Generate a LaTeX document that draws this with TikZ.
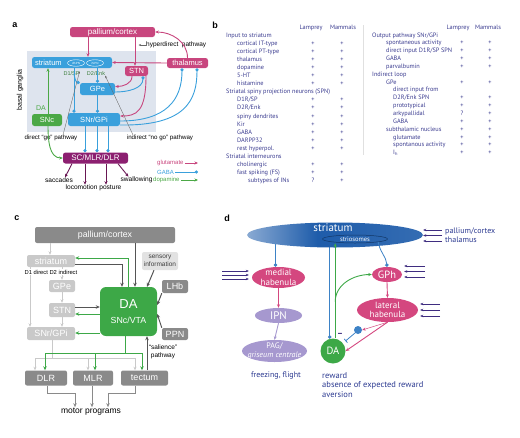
\documentclass[tikz,border=0pt]{standalone}
\usepackage{fontspec}
\setmainfont{Liberation Sans}
\newfontfamily\myr{PT Sans}
\usepackage{tikz}
\usetikzlibrary{arrows.meta,shapes.geometric,backgrounds}
\newcommand{\fsz}[1]{\fontsize{#1}{#1}\selectfont}
% colours
\definecolor{glu}{HTML}{C8467E}
\definecolor{gabac}{HTML}{3AA0DC}
\definecolor{dopc}{HTML}{4BA846}
\definecolor{dopdk}{HTML}{3A7D3A}
\definecolor{scpur}{HTML}{8C1F70}
\definecolor{bgbl}{HTML}{DEE4EE}
\definecolor{tabtxt}{HTML}{3A3B8F}
\definecolor{dkgray}{HTML}{8A8A8A}
\definecolor{ltgray}{HTML}{C9C9C9}
\definecolor{sensgray}{HTML}{E2E2E2}
\definecolor{cdk}{HTML}{555555}
\definecolor{dagreen}{HTML}{3DA847}
\definecolor{dpink}{HTML}{D4477F}
\definecolor{lav}{HTML}{A698CF}
\definecolor{dblue}{HTML}{1E5CAA}
\definecolor{dgabac}{HTML}{3D82C6}
\definecolor{inpur}{HTML}{3F2D80}
\definecolor{txtblue}{HTML}{2B3990}
\pgfdeclarehorizontalshading{strsh}{100bp}{color(0bp)=(dblue!6); color(22bp)=(dblue!45); color(45bp)=(dblue); color(75bp)=(dblue!90); color(100bp)=(dblue!30)}
\tikzset{
  plab/.style={font=\bfseries\fsz{9}, inner sep=0pt},
  abox/.style={rounded corners=2.5pt, inner sep=0pt, text=white, font=\fsz{7.5}},
  glubox/.style={abox, fill=glu},
  gababox/.style={abox, fill=gabac},
  dopbox/.style={abox, fill=dopc},
  spn/.style={ellipse, draw=white, line width=0.4pt, minimum width=17pt, minimum height=6.5pt, inner sep=0pt, text=white, font=\fsz{3}},
  gluarr/.style={draw=glu, line width=0.9pt, -{Stealth[length=3.5pt,width=3pt]}},
  gabaarr/.style={draw=gabac, line width=0.9pt, -{Circle[length=3.2pt]}},
  doparr/.style={draw=dopc, line width=0.9pt, -{Stealth[length=3.5pt,width=3pt]}},
  outarr/.style={draw=scpur!75!black, line width=0.9pt, -{Stealth[length=3.5pt,width=3pt]}},
  thinarr/.style={draw=black!60, line width=0.35pt, -{Stealth[length=2.5pt,width=2pt]}},
  tab/.style={inner sep=0pt, text=tabtxt, font=\myr\fsz{6.3}},
  cbox/.style={rounded corners=2pt, inner sep=0pt, text=white, font=\fsz{9}},
  cdark/.style={cbox, fill=dkgray},
  clight/.style={cbox, fill=ltgray},
  cdarr/.style={draw=cdk, line width=1pt, -{Stealth[length=4pt,width=3.5pt]}},
  cgline/.style={draw=dagreen, line width=1pt},
  cgarr/.style={cgline, -{Stealth[length=4pt,width=3.5pt]}},
  clline/.style={draw=ltgray, line width=0.8pt},
  clarr/.style={clline, -{Stealth[length=3.5pt,width=3pt]}},
  cmarr/.style={draw=dkgray, line width=1pt, -{Stealth[length=4pt,width=3.5pt]}},
  dell/.style={ellipse, inner sep=0pt},
  dtxt/.style={inner sep=0pt, text=white, align=center, font=\myr\fontsize{9}{9.5}\selectfont},
  dglu/.style={draw=dpink, line width=0.9pt, -{Stealth[length=3.5pt,width=3pt]}},
  dgaba/.style={draw=dgabac, line width=0.8pt, -{Circle[length=3.5pt]}},
  ddop/.style={draw=dagreen, line width=0.9pt, -{Stealth[length=3.5pt,width=3pt]}},
  dlav/.style={draw=lav, line width=0.9pt, -{Stealth[length=3.5pt,width=3pt]}},
  inarr/.style={draw=inpur, line width=0.7pt, -{Stealth[length=3pt,width=2.5pt]}},
}
\begin{document}
\begin{tikzpicture}[x=1pt,y=-1pt]
\useasboundingbox (0,0) rectangle (520,437);
% ---------- a: basal ganglia circuit
\node[plab] (la) at (15,25) {a};
\fill[bgbl] (27,51) rectangle (156,132);
\node[rotate=90, font=\fsz{7}, inner sep=0pt] (bgl) at (20,90) {basal ganglia};
\node[glubox, minimum width=85pt, minimum height=10pt, font=\fsz{8}] (pal) at (112.5,32) {pallium/cortex};
\node[gababox, minimum width=80pt, minimum height=11pt] (str) at (72,62.5) {};
\node[anchor=west, text=white, font=\fsz{7.5}, inner sep=0pt] (strl) at ([xshift=3pt]str.west) {striatum};
\node[spn] (dspn) at (76,63) {dSPN};
\node[spn] (ispn) at (95,63) {iSPN};
\node[glubox, minimum width=23pt, minimum height=10pt] (stn) at (136.5,71) {STN};
\node[glubox, minimum width=41pt, minimum height=10pt] (thal) at (187.5,63) {thalamus};
\node[gababox, minimum width=35pt, minimum height=12pt] (gpe) at (97.5,89) {GPe};
\node[dopbox, minimum width=30pt, minimum height=12pt] (snc) at (47,120) {SNc};
\node[gababox, minimum width=52pt, minimum height=13pt] (snr) at (94,119.5) {SNr/GPi};
\node[abox, fill=scpur, minimum width=65pt, minimum height=11pt, font=\fsz{8}] (sc) at (95.5,158) {SC/MLR/DLR};
\node[inner sep=0pt, text=dopdk, font=\fsz{5.5}] (d1l) at (71.5,73.5) {D1/SP};
\node[inner sep=0pt, text=dopdk, font=\fsz{5.5}] (d2l) at (96,73.5) {D2/Enk};
\node[inner sep=0pt, text=dopc, font=\fsz{7}] (dal) at (41,108) {DA};
\node[inner sep=0pt, font=\fsz{6.2}] (dgo) at (51,138) {direct “go” pathway};
\node[inner sep=0pt, font=\fsz{6.2}] (ngo) at (160,138) {indirect “no go” pathway};
\node[inner sep=0pt, font=\fsz{6.5}, anchor=west] (hyp) at (146,45) {hyperdirect\ \ pathway};
\coordinate (hypt) at (138.5,45);
\node[inner sep=0pt, font=\fsz{6.6}] (sac) at (59,180) {saccades};
\node[inner sep=0pt, font=\fsz{6.6}] (loc) at (93.5,188) {locomotion posture};
\node[inner sep=0pt, font=\fsz{6.6}] (swa) at (136.5,180) {swallowing};
% connections
\draw[gluarr] (pal.south -| 88,0) -- (str.north -| 88,0);
\draw[gluarr] (pal.south -| 135,0) -- (stn.north -| 135,0);
\draw[gluarr] (thal.north) to[out=90,in=0] (pal.east);
\draw[gluarr] (thal.west) -- (str.east);
\draw[gluarr] (stn.south -| 132,0) to[out=-90,in=0] (gpe.east |- 0,86.5);
\draw[gabaarr] (gpe.east |- 0,92) to[out=0,in=-90] (stn.south -| 143,0);
\draw[gluarr] (stn.south -| 146,0) .. controls (146,112) and (136,116) .. (snr.east |- 0,116);
\draw[gabaarr] (snr.east |- 0,121) .. controls (166,121) and (182,100) .. (thal.south -| 182,0);
\draw[gabaarr] (snr.east |- 0,125) .. controls (186,126) and (197,100) .. (thal.south -| 197,0);
\draw[gabaarr] (str.south -| 74,0) -- (snr.north -| 74,0);
\draw[gabaarr] (74,74) to[out=-80,in=170] (gpe.north west);
\draw[gabaarr] (str.south -| gpe) -- (gpe.north);
\draw[gabaarr] (gpe.south) -- (snr.north -| gpe);
\draw[doparr] (snc.north -| 48,0) -- (str.south -| 48,0);
\draw[doparr] (snc.south -| 48,0) to[out=-90,in=180] (sc.west);
\foreach \xo in {85,97,108}
  \draw[gabaarr] (snr.south -| \xo,0) -- (sc.north -| \xo,0);
\draw[outarr] (sc.south -| 72,0) -- ([xshift=6pt]sac.north);
\draw[outarr] (sc.south -| 85,0) -- (loc.north -| 85,0);
\draw[outarr] (sc.south -| 106,0) -- (loc.north -| 106,0);
\draw[outarr] (sc.south -| 118,0) -- ([xshift=-8pt]swa.north);
\draw[thinarr] (dgo.north -| 63,0) -- (d1l.north east);
\draw[thinarr] (ngo.north -| 133,0) -- (d2l.south east);
\draw[thinarr] (hyp.west) -- (hypt);
% legend
\node[inner sep=0pt, font=\fsz{6}, text=glu, anchor=west] (lglu) at (157,163) {glutamate};
\node[inner sep=0pt, font=\fsz{6}, text=gabac, anchor=west] (lgab) at (157,172) {GABA};
\node[inner sep=0pt, font=\fsz{6}, text=dopc, anchor=west] (ldop) at (153,180) {dopamine};
\coordinate (lglue) at (198,163);
\coordinate (lgabe) at (198,172);
\coordinate (ldope) at (198,180);
\draw[gluarr, line width=0.7pt, shorten <=1pt] (lglu.east) -- (lglue);
\draw[gabaarr, line width=0.7pt, shorten <=1pt] (lgab.east) -- (lgabe);
\draw[doparr, line width=0.7pt, shorten <=1pt] (ldop.east) -- (ldope);
% ---------- b: table
\node[plab] (lb) at (215,25) {b};
\foreach \xh/\nm [count=\k] in {311/Lamprey, 343/Mammals, 458/Lamprey, 488/Mammals}
  \node[tab, anchor=base] (hd\k) at (\xh,29) {\nm};
\draw[black!12, line width=0.4pt] (363,25) -- (363,155);
\foreach \ind/\t [count=\i] in {0/Input to striatum, 11/cortical IT-type, 11/cortical PT-type,
    11/thalamus, 11/dopamine, 11/5-HT, 11/histamine, 0/Striatal spiny projection neurons (SPN),
    11/{D1R/SP}, 11/{D2R/Enk}, 11/spiny dendrites, 11/Kir, 11/GABA, 11/DARPP32,
    11/rest hyperpol., 0/Striatal interneurons, 11/cholinergic, 11/fast spiking (FS),
    22/subtypes of INs}
  \node[tab, anchor=base west] (bl\i) at ({226+\ind},{37+8.1*(\i-1)}) {\t};
\foreach \i/\l/\m in {2/+/+,3/+/+,4/+/+,5/+/+,6/+/+,7/+/+,9/+/+,10/+/+,11/+/+,12/+/+,
    13/+/+,14/+/+,15/+/+,17/+/+,18/+/+,19/?/+}
  {\node[tab, anchor=base] (bll\i) at (313,{37+8.1*(\i-1)}) {\l};
   \node[tab, anchor=base] (blm\i) at (342,{37+8.1*(\i-1)}) {\m};}
\foreach \ind/\t [count=\i] in {0/{Output pathway SNr/GPi}, 14/spontaneous activity,
    14/{direct input D1R/SP SPN}, 14/GABA, 14/parvalbumin, 0/Indirect loop, 14/GPe,
    21/direct input from, 21/{D2R/Enk SPN}, 21/prototypical, 21/arkypallidal, 21/GABA,
    14/subthalamic nucleus, 21/glutamate, 21/spontanous activity, 21/I\textsubscript{h}}
  \node[tab, anchor=base west] (br\i) at ({372+\ind},{37+7.85*(\i-1)}) {\t};
\foreach \i/\l/\m in {2/+/+,3/+/+,4/+/+,5/+/+,7/+/+,9/+/+,10/+/+,11/?/+,12/+/+,
    13/+/+,14/+/+,15/+/+,16/+/+}
  {\node[tab, anchor=base] (brl\i) at (462,{37+7.85*(\i-1)}) {\l};
   \node[tab, anchor=base] (brm\i) at (490,{37+7.85*(\i-1)}) {\m};}
% ---------- c: dopamine hub
\node[plab] (lc) at (17,218) {c};
\node[cdark, minimum width=140pt, minimum height=16pt, font=\fsz{8.8}] (cpal) at (105,235) {pallium/cortex};
\node[clight, minimum width=48pt, minimum height=12pt] (cstr) at (51,261) {striatum};
\node[clight, minimum width=26pt, minimum height=12pt] (cgpe) at (62,286) {GPe};
\node[clight, minimum width=26pt, minimum height=14pt] (cstn) at (62,310) {STN};
\node[clight, minimum width=48pt, minimum height=13pt] (csnr) at (51,333.5) {SNr/GPi};
\node[cbox, fill=dagreen, rounded corners=6pt, minimum width=57pt, minimum height=49pt] (cda) at (128.5,311.5) {};
\node[inner sep=0pt, text=white, font=\fsz{13}] (cdal) at (128.5,304) {DA};
\node[inner sep=0pt, text=white, font=\fsz{8.8}] (cdas) at (128.5,320) {SNc/VTA};
\node[cbox, fill=sensgray, text=black!75, minimum width=36pt, minimum height=18pt, align=center, font=\fontsize{6.5}{7.5}\selectfont] (csens) at (160,261) {sensory\\information};
\node[cdark, minimum width=26pt, minimum height=13pt] (clhb) at (175,286.5) {LHb};
\node[cdark, minimum width=26pt, minimum height=12pt] (cppn) at (175,334) {PPN};
\node[cdark, minimum width=42pt, minimum height=15pt] (cdlr) at (46,378) {DLR};
\node[cdark, minimum width=40pt, minimum height=15pt] (cmlr) at (93,378) {MLR};
\node[cdark, minimum width=47pt, minimum height=15pt] (ctec) at (144.5,378) {tectum};
\node[inner sep=1pt, font=\fsz{8.5}] (mot) at (91,412) {motor programs};
\node[inner sep=0pt, align=center, font=\fontsize{6.5}{8}\selectfont] (csal) at (163,352) {“salience”\\pathway};
% connections
\draw[clarr] (cpal.south -| 50,0) -- (cstr.north -| 50,0);
\draw[cdarr] (cpal.south -| 135,0) -- (cda.north -| 135,0);
\draw[cgarr] (cda.north -| 128,0) |- (cstr.east |- 0,258);
\draw[cdarr] (cstr.east |- 0,264) -| (cda.north -| 122,0);
\draw[cdarr] (csens.south -| 154,0) -- (cda.north -| 147,0);
\draw[cdarr] (clhb.south west) -- (cda.east |- 0,305);
\draw[cdarr] (cppn.north west) -- (cda.east |- 0,314);
\draw[cdarr] (cstn.east |- 0,307) -- (cda.west |- 0,307);
\draw[cgarr] (cda.west |- 0,314) -- (cstn.east |- 0,314);
\draw[cgarr] (cda.west |- 0,333) -- (csnr.east |- 0,333);
\draw[clarr] (cstr.south -| 30,0) -- (csnr.north -| 30,0);
\draw[clarr] (cstr.south -| cgpe) -- (cgpe.north);
\draw[clarr] (cgpe.south) -- (cstn.north);
\draw[clarr] (cstn.south) -- (csnr.north -| cstn);
\coordinate (sj) at (52,358);
\coordinate (sl) at (35,358);
\coordinate (sm) at (88,358);
\coordinate (sr) at (135,358);
\draw[clline] (csnr.south -| sj) -- (sj);
\draw[clline] (sl) -- (sr);
\foreach \p/\b in {sl/cdlr, sm/cmlr, sr/ctec}
  \draw[clarr] (\p) -- (\b.north -| \p);
\coordinate (gj) at (125,353);
\coordinate (gl) at (45,353);
\coordinate (gm) at (95,353);
\coordinate (gr) at (142,353);
\draw[cgline] (cda.south -| gj) -- (gj);
\draw[cgline] (gl) -- (gr);
\foreach \p/\b in {gl/cdlr, gm/cmlr, gr/ctec}
  \draw[cgarr] (\p) -- (\b.north -| \p);
\draw[cdarr] (ctec.north -| 147,0) -- (cda.south -| 147,0);
\coordinate (m1) at (75,393);
\coordinate (m3) at (108,393);
\draw[cmarr] (cdlr.south -| 47,0) |- (m1) -- (mot.north -| m1);
\draw[cmarr] (cmlr.south -| 92,0) -- (mot.north -| 92,0);
\draw[cmarr] (ctec.south -| 135,0) |- (m3) -- (mot.north -| m3);
\node[inner sep=0.6pt, fill=white, font=\fsz{5.8}] (cdd) at (51,272) {D1 direct D2 indirect};
% ---------- d: striosomes and habenula
\node[plab] (ld) at (227,218) {d};
\node[dell, minimum width=176pt, minimum height=25pt, shading=strsh] (dstr) at (335,235) {};
\node[dtxt, font=\myr\fsz{11}] (dstrl) at (333,228) {striatum};
\node[dell, draw=dblue!60!black, line width=0.5pt, minimum width=65pt, minimum height=8pt] (strio) at (355,239) {};
\node[dtxt, font=\myr\fsz{6.5}] (striol) at (355,239) {striosomes};
\node[dell, fill=dpink, minimum width=53pt, minimum height=21pt] (mhab) at (278.5,277.5) {};
\node[dtxt] (mhabl) at (mhab) {medial\\habenula};
\node[dell, fill=lav, minimum width=47pt, minimum height=15pt] (ipn) at (278.5,315.5) {};
\node[dtxt, font=\myr\fsz{11}] (ipnl) at (ipn) {IPN};
\node[dell, fill=lav, minimum width=65pt, minimum height=22pt] (pag) at (274.5,351) {};
\node[dtxt, font=\myr\fontsize{8}{8.5}\selectfont] (pagl) at (pag) {PAG/\\\textit{griseum centrale}};
\node[dell, fill=dpink, minimum width=30pt, minimum height=15pt] (gph) at (387,274.5) {};
\node[dtxt, font=\myr\fsz{10.5}] (gphl) at (gph) {GPh};
\node[dell, fill=dpink, minimum width=61pt, minimum height=24pt] (lhab) at (387.5,310) {};
\node[dtxt] (lhabl) at (lhab) {lateral\\habenula};
\node[circle, fill=dagreen, minimum size=25pt, inner sep=0pt] (dda) at (333,351) {};
\node[dtxt, font=\myr\fsz{10.5}] (ddal) at (dda) {DA};
\node[circle, fill=dgabac, minimum size=8pt, inner sep=0pt] (inh) at (358,330) {};
\node[inner sep=0pt, text=inpur, font=\myr\bfseries\fsz{9}] (minus) at (340,335) {–};
\node[inner sep=0pt, text=txtblue, font=\myr\fsz{8}] (frz) at (276,375) {freezing, flight};
\node[inner sep=0pt, anchor=north west, align=left, text=txtblue, font=\myr\fontsize{8.5}{9.6}\selectfont] (rew) at (322,372) {reward\\absence of expected reward\\aversion};
\node[inner sep=0pt, anchor=west, text=txtblue, font=\myr\fsz{8}] (dpal) at (445,231) {pallium/cortex};
\node[inner sep=0pt, anchor=west, text=txtblue, font=\myr\fsz{8}] (dtha) at (445,239.5) {thalamus};
% connections
\begin{scope}[on background layer]
  \draw[dgaba] ([xshift=-3pt]mhab.north |- dstr.center) -- ([xshift=-3pt]mhab.north);
  \draw[dgaba] (dda.105 |- dstr.center) -- (dda.105);
\end{scope}
\draw[ddop] (dda.80) -- (dda.80 |- strio.south);
\coordinate (gbr) at (dda.80 |- 0,302);
\draw[ddop] (gbr) to[out=90,in=180] (gph.west);
\draw[dgaba] (strio.south east) to[out=-80,in=95] (gph.north);
\draw[dglu] (gph.south) -- (lhab.north);
\draw[dglu] (mhab.south) -- (ipn.north);
\draw[dlav] (ipn.south) -- (pag.north);
\draw[dglu] (lhab.south) -- (dda.east);
\draw[dglu, line width=0.5pt] (lhab.south) -- (inh.east);
\coordinate (tb) at (345.5,341);
\draw[draw=dgabac, line width=0.8pt, -{Bar[width=5pt]}] (inh.south west) -- (tb);
\foreach \yy [count=\k] in {230,235.5,241} {
  \coordinate (ps\k) at (442,\yy);
  \draw[inarr] (ps\k) -- (dstr.east |- ps\k);}
\foreach \yy [count=\k] in {266,271.5,277} {
  \coordinate (gs\k) at (425,\yy);
  \draw[inarr, shorten >=2pt] (gs\k) -- (gph.east |- gs\k);}
\foreach \yy [count=\k] in {304,310,316} {
  \coordinate (ls\k) at (440,\yy);
  \draw[inarr, shorten >=2pt] (ls\k) -- (lhab.east |- ls\k);}
\foreach \yy [count=\k] in {271,275,279} {
  \coordinate (ms\k) at (222,\yy);
  \draw[inarr, shorten >=3pt] (ms\k) -- (mhab.west |- ms\k);}
\end{tikzpicture}
\end{document}
